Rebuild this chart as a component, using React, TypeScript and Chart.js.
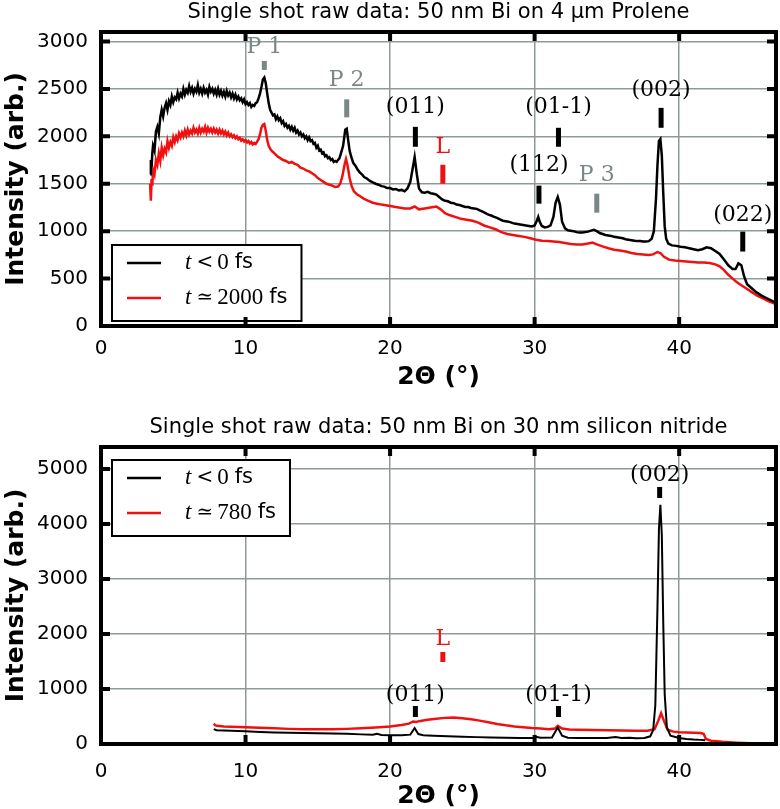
import React, { useEffect, useRef } from "react";
import { Chart, registerables } from "chart.js";
Chart.register(...registerables);

// ---------------- data ----------------
const topTitle = "Single shot raw data: 50 nm Bi on 4 µm Prolene";
const bottomTitle = "Single shot raw data: 50 nm Bi on 30 nm silicon nitride";
const xAxisTitle = "2Θ (°)";
const yAxisTitle = "Intensity (arb.)";
const xTicks = [0, 10, 20, 30, 40];
const topYTicks = [0, 500, 1000, 1500, 2000, 2500, 3000];
const bottomYTicks = [0, 1000, 2000, 3000, 4000, 5000];

const topLegend = [
  { rel: "<", num: "0", unit: "fs" },
  { rel: "≃", num: "2000", unit: "fs" },
];
const bottomLegend = [
  { rel: "<", num: "0", unit: "fs" },
  { rel: "≃", num: "780", unit: "fs" },
];

// top panel, t < 0 fs
const topNegX = [3.4, 3.45, 3.5, 3.55, 3.6, 3.7, 3.8, 3.9, 4.0, 4.1, 4.2, 4.3, 4.4, 4.5, 4.6, 4.7, 4.8, 4.9, 5.0, 5.1, 5.2, 5.3, 5.4, 5.5, 5.6, 5.7, 5.8, 5.9, 6.0, 6.1, 6.2, 6.3, 6.4, 6.5, 6.6, 6.7, 6.8, 6.9, 7.0, 7.1, 7.2, 7.3, 7.4, 7.5, 7.6, 7.7, 7.8, 7.9, 8.0, 8.1, 8.2, 8.3, 8.4, 8.5, 8.6, 8.7, 8.8, 8.9, 9.0, 9.1, 9.2, 9.3, 9.4, 9.5, 9.6, 9.7, 9.8, 9.9, 10.0, 10.1, 10.2, 10.3, 10.4, 10.5, 10.6, 10.7, 10.8, 10.9, 11.0, 11.1, 11.2, 11.3, 11.4, 11.5, 11.6, 11.7, 11.8, 11.9, 12.0, 12.1, 12.2, 12.3, 12.4, 12.5, 12.6, 12.7, 12.8, 12.9, 13.0, 13.1, 13.2, 13.3, 13.4, 13.5, 13.6, 13.7, 13.8, 13.9, 14.0, 14.1, 14.2, 14.3, 14.4, 14.5, 14.6, 14.7, 14.8, 14.9, 15.0, 15.1, 15.2, 15.3, 15.4, 15.5, 15.6, 15.7, 15.8, 15.9, 16.0, 16.1, 16.2, 16.3, 16.4, 16.5, 16.6, 16.75, 16.9, 17.0, 17.1, 17.2, 17.3, 17.45, 17.6, 17.75, 17.9, 18.05, 18.2, 18.4, 18.6, 18.8, 19.0, 19.2, 19.4, 19.6, 19.8, 20.0, 20.2, 20.4, 20.6, 20.8, 21.0, 21.2, 21.4, 21.55, 21.7, 21.85, 22.0, 22.2, 22.4, 22.6, 22.8, 23.0, 23.2, 23.4, 23.6, 23.8, 24.0, 24.2, 24.4, 24.6, 24.8, 25.0, 25.2, 25.4, 25.6, 25.8, 26.0, 26.2, 26.4, 26.6, 26.8, 27.0, 27.2, 27.4, 27.6, 27.8, 28.0, 28.2, 28.4, 28.6, 28.8, 29.0, 29.2, 29.4, 29.6, 29.8, 30.0, 30.15, 30.25, 30.35, 30.5, 30.7, 30.9, 31.1, 31.3, 31.45, 31.6, 31.75, 31.9, 32.1, 32.3, 32.5, 32.7, 32.9, 33.1, 33.3, 33.5, 33.7, 33.9, 34.1, 34.3, 34.5, 34.7, 34.9, 35.1, 35.3, 35.5, 35.7, 35.9, 36.1, 36.3, 36.5, 36.7, 36.9, 37.1, 37.3, 37.5, 37.7, 37.9, 38.1, 38.25, 38.4, 38.5, 38.6, 38.7, 38.8, 38.9, 39.0, 39.1, 39.25, 39.5, 39.8, 40.1, 40.4, 40.7, 41.0, 41.3, 41.6, 41.9, 42.2, 42.5, 42.8, 43.1, 43.4, 43.7, 43.9, 44.1, 44.3, 44.5, 44.7, 45.0, 45.3, 45.7, 46.1, 46.5, 46.7];
const topNegY = [1600, 1750, 1680, 1820, 1900, 1850, 2050, 2100, 2030, 2200, 2280, 2210, 2300, 2350, 2280, 2370, 2330, 2420, 2360, 2410, 2390, 2460, 2400, 2450, 2420, 2500, 2440, 2490, 2460, 2530, 2470, 2510, 2450, 2500, 2470, 2540, 2460, 2500, 2450, 2510, 2460, 2490, 2440, 2520, 2470, 2500, 2450, 2490, 2440, 2500, 2440, 2480, 2430, 2470, 2420, 2480, 2430, 2460, 2410, 2450, 2400, 2440, 2390, 2420, 2380, 2400, 2360, 2390, 2340, 2360, 2330, 2350, 2310, 2330, 2320, 2350, 2360, 2400, 2450, 2520, 2600, 2620, 2560, 2450, 2350, 2280, 2250, 2220, 2230, 2180, 2210, 2170, 2190, 2140, 2160, 2110, 2130, 2090, 2110, 2070, 2100, 2060, 2090, 2040, 2060, 2020, 2040, 2000, 2020, 1980, 2000, 1960, 1990, 1950, 1960, 1920, 1930, 1880, 1900, 1850, 1860, 1820, 1830, 1790, 1800, 1770, 1780, 1750, 1760, 1730, 1740, 1730, 1750, 1770, 1820, 1900, 2070, 2080, 1960, 1850, 1790, 1720, 1690, 1650, 1620, 1600, 1570, 1555, 1530, 1515, 1500, 1490, 1475, 1470, 1455, 1455, 1440, 1445, 1430, 1435, 1420, 1450, 1520, 1650, 1780, 1600, 1450, 1410, 1405, 1415, 1400, 1395, 1385, 1360, 1335, 1320, 1315, 1300, 1295, 1280, 1275, 1265, 1255, 1255, 1245, 1240, 1235, 1220, 1205, 1190, 1175, 1165, 1150, 1140, 1125, 1110, 1105, 1100, 1090, 1080, 1075, 1070, 1065, 1060, 1055, 1050, 1060, 1110, 1150, 1100, 1055, 1040, 1045, 1060, 1150, 1300, 1360, 1280, 1100, 1030, 1010, 1005, 1000, 990, 985, 985, 990, 995, 1005, 1015, 1000, 980, 970, 960, 955, 950, 940, 935, 930, 925, 915, 910, 905, 900, 895, 895, 890, 890, 895, 920, 1000, 1350, 1700, 1950, 1970, 1800, 1400, 1050, 920, 870, 850, 845, 835, 830, 820, 810, 800, 810, 830, 820, 790, 760, 700, 640, 600, 600, 660, 640, 520, 440, 400, 360, 320, 290, 260, 250];

// top panel, t ≃ 2000 fs
const topPosX = [3.4, 3.45, 3.5, 3.55, 3.6, 3.7, 3.8, 3.9, 4.0, 4.1, 4.2, 4.3, 4.4, 4.5, 4.6, 4.7, 4.8, 4.9, 5.0, 5.1, 5.2, 5.3, 5.4, 5.5, 5.6, 5.7, 5.8, 5.9, 6.0, 6.1, 6.2, 6.3, 6.4, 6.5, 6.6, 6.7, 6.8, 6.9, 7.0, 7.1, 7.2, 7.3, 7.4, 7.5, 7.6, 7.7, 7.8, 7.9, 8.0, 8.1, 8.2, 8.3, 8.4, 8.5, 8.6, 8.7, 8.8, 8.9, 9.0, 9.1, 9.2, 9.3, 9.4, 9.5, 9.6, 9.7, 9.8, 9.9, 10.0, 10.1, 10.2, 10.3, 10.4, 10.5, 10.6, 10.7, 10.8, 10.9, 11.0, 11.1, 11.2, 11.3, 11.4, 11.5, 11.6, 11.7, 11.8, 12.0, 12.2, 12.4, 12.6, 12.8, 13.0, 13.2, 13.4, 13.6, 13.8, 14.0, 14.2, 14.4, 14.6, 14.8, 15.0, 15.2, 15.4, 15.6, 15.8, 16.0, 16.2, 16.4, 16.55, 16.7, 16.85, 16.95, 17.05, 17.2, 17.35, 17.5, 17.7, 17.9, 18.2, 18.5, 18.8, 19.1, 19.4, 19.8, 20.2, 20.6, 21.0, 21.4, 21.7, 22.0, 22.4, 22.8, 23.2, 23.5, 23.8, 24.1, 24.5, 24.9, 25.3, 25.7, 26.1, 26.5, 26.9, 27.3, 27.7, 28.1, 28.5, 28.9, 29.3, 29.7, 30.1, 30.5, 30.9, 31.3, 31.7, 32.1, 32.5, 32.9, 33.3, 33.7, 34.0, 34.3, 34.7, 35.1, 35.5, 35.9, 36.3, 36.7, 37.1, 37.5, 37.9, 38.2, 38.5, 38.7, 38.95, 39.3, 39.7, 40.1, 40.5, 40.9, 41.3, 41.7, 42.1, 42.5, 42.8, 43.1, 43.4, 43.7, 44.0, 44.3, 44.6, 45.0, 45.4, 45.8, 46.2, 46.7];
const topPosY = [1500, 1320, 1550, 1480, 1650, 1600, 1750, 1700, 1820, 1740, 1880, 1800, 1870, 1830, 1950, 1880, 1940, 1900, 1990, 1940, 2000, 1960, 2030, 1990, 2040, 2000, 2060, 2010, 2070, 2020, 2060, 2030, 2090, 2040, 2070, 2030, 2090, 2040, 2080, 2050, 2100, 2040, 2090, 2050, 2080, 2040, 2080, 2040, 2070, 2030, 2070, 2030, 2060, 2020, 2050, 2010, 2040, 2000, 2020, 1990, 2010, 1980, 2000, 1970, 1985, 1955, 1970, 1945, 1960, 1935, 1950, 1925, 1940, 1915, 1930, 1920, 1945, 1970, 2020, 2090, 2120, 2130, 2060, 1960, 1900, 1870, 1850, 1820, 1790, 1770, 1750, 1740, 1720, 1730, 1710, 1700, 1670, 1660, 1640, 1630, 1610, 1590, 1560, 1540, 1520, 1500, 1490, 1480, 1465, 1470, 1500, 1580, 1700, 1760, 1700, 1560, 1470, 1420, 1390, 1370, 1340, 1320, 1300, 1290, 1280, 1270, 1260, 1250, 1240, 1240, 1260, 1230, 1240, 1250, 1260, 1230, 1190, 1170, 1150, 1130, 1120, 1110, 1090, 1060, 1040, 1020, 990, 970, 960, 950, 940, 925, 910, 900, 895, 890, 885, 875, 865, 860, 860, 870, 880, 860, 840, 820, 805, 795, 785, 770, 760, 755, 750, 755, 780, 770, 730, 700, 690, 685, 680, 675, 670, 670, 665, 650, 630, 590, 540, 500, 460, 430, 400, 360, 320, 290, 260, 230];

// bottom panel, t < 0 fs
const botNegX = [7.8, 8.0, 8.5, 9.0, 9.5, 10.0, 11, 12, 13, 14, 15, 16, 17, 18, 18.8, 19.1, 19.4, 20, 20.8, 21.4, 21.7, 21.95, 22.3, 23, 24, 25, 26, 27, 28, 29, 29.9, 30.1, 30.4, 31.2, 31.6, 31.9, 32.3, 33, 34, 35, 35.6, 36, 36.6, 37, 37.6, 38.0, 38.2, 38.35, 38.5, 38.6, 38.7, 38.8, 38.9, 39.0, 39.15, 39.4, 40, 40.5, 41, 41.5, 41.8];
const botNegY = [270, 250, 245, 240, 235, 230, 220, 210, 205, 200, 195, 190, 185, 175, 170, 185, 165, 160, 158, 170, 290, 180, 160, 150, 140, 130, 125, 120, 115, 110, 110, 130, 112, 120, 300, 150, 115, 110, 108, 110, 125, 110, 115, 105, 110, 140, 250, 700, 2500, 3900, 4350, 3800, 2200, 900, 300, 150, 110, 90, 80, 75, 70];

// bottom panel, t ≃ 780 fs
const botPosX = [7.8, 7.9, 8.0, 8.5, 9.0, 9.5, 10, 11, 12, 13, 14, 15, 16, 17, 18, 19, 20, 20.8, 21.3, 21.6, 21.8, 22.1, 22.6, 23.2, 23.8, 24.4, 25.0, 25.6, 26.2, 26.8, 27.4, 28, 28.6, 29.2, 29.8, 30.4, 31.0, 31.4, 31.6, 31.9, 32.4, 33, 34, 35, 36, 37, 37.8, 38.3, 38.55, 38.75, 38.95, 39.2, 39.6, 40, 40.5, 41, 41.5, 41.7, 41.85, 42.2, 43, 44, 45];
const botPosY = [370, 340, 330, 320, 315, 310, 305, 295, 285, 275, 270, 268, 270, 275, 285, 300, 320, 345, 370, 410, 400, 420, 440, 460, 475, 480, 470, 450, 425, 395, 365, 340, 320, 305, 290, 280, 270, 280, 330, 280, 265, 260, 255, 250, 245, 240, 240, 270, 420, 560, 420, 260, 225, 215, 210, 205, 200, 180, 90, 60, 40, 25, 15];

// peak annotations (labels, positions in data units)
const topMarkLabels = ["P 1", "P 2", "(011)", "L", "(112)", "(01-1)", "P 3", "(002)", "(022)"];
const topMarkKinds = ["sub", "sub", "bi", "liq", "bi", "bi", "sub", "bi", "bi"];
const topMarkX = [11.3, 17.0, 21.75, 23.65, 30.3, 31.65, 34.3, 38.75, 44.4];
const topMarkLow = [2700, 2200, 1890, 1500, 1290, 1890, 1195, 2090, 785];
const topMarkHigh = [2795, 2390, 2100, 1700, 1480, 2090, 1395, 2300, 995];
const topLabelY = [2937, 2588, 2303, 1880, 1690, 2303, 1584, 2482, 1172];

const botMarkLabels = ["(011)", "L", "(01-1)", "(002)"];
const botMarkKinds = ["bi", "liq", "bi", "bi"];
const botMarkX = [21.75, 23.65, 31.65, 38.65];
const botMarkLow = [491, 1491, 491, 4473];
const botMarkHigh = [691, 1673, 691, 4673];
const botLabelY = [891, 1909, 891, 4891];

// ---------------- styles ----------------
const SANS = "'DejaVu Sans', sans-serif";
const SERIF_TXT = "'DejaVu Serif', serif";
const MATH = "'Liberation Serif', 'DejaVu Serif', serif";
const GRID = "#8f9999";
const RED = "#f01010";
const KIND_COLORS: Record<string, string> = { sub: "#7b8686", bi: "#000000", liq: "#ee1111" };

type PanelCfg = {
  title: string;
  legend: { rel: string; num: string; unit: string }[];
  legendPos: "lower" | "upper";
  labels: string[];
  kinds: string[];
  mx: number[];
  lo: number[];
  hi: number[];
  ly: number[];
};

function drawLegendText(ctx: CanvasRenderingContext2D, x: number, y: number, e: { rel: string; num: string; unit: string }) {
  ctx.textBaseline = "middle";
  ctx.textAlign = "left";
  ctx.fillStyle = "#000";
  let cx = x;
  ctx.font = `italic 23px ${MATH}`;
  ctx.fillText("t", cx, y);
  cx += ctx.measureText("t").width + 5;
  ctx.font = `20px 'DejaVu Serif', serif`;
  ctx.fillText(e.rel, cx, y);
  cx += ctx.measureText(e.rel).width + 4;
  ctx.font = `23px ${MATH}`;
  ctx.fillText(e.num, cx, y);
  cx += ctx.measureText(e.num).width + 6;
  ctx.font = `21px ${SANS}`;
  ctx.fillText(e.unit, cx, y);
  cx += ctx.measureText(e.unit).width;
  return cx - x;
}

function makePlugin(cfg: PanelCfg, yTickVals: number[]) {
  return {
    id: "panelDeco",
    afterDatasetsDraw(chart: any) {
      const ctx: CanvasRenderingContext2D = chart.ctx;
      const xs = chart.scales.x;
      const ys = chart.scales.y;
      ctx.save();
      cfg.labels.forEach((lab, i) => {
        const col = KIND_COLORS[cfg.kinds[i]];
        const px = xs.getPixelForValue(cfg.mx[i]);
        const pTop = ys.getPixelForValue(cfg.hi[i]);
        const pBot = ys.getPixelForValue(cfg.lo[i]);
        ctx.fillStyle = col;
        ctx.fillRect(px - 2.5, pTop, 5, pBot - pTop);
        ctx.font = `22px ${SERIF_TXT}`;
        ctx.textAlign = "center";
        ctx.textBaseline = "middle";
        ctx.fillText(lab, px, ys.getPixelForValue(cfg.ly[i]));
      });
      ctx.restore();
    },
    afterDraw(chart: any) {
      const ctx: CanvasRenderingContext2D = chart.ctx;
      const a = chart.chartArea;
      const xs = chart.scales.x;
      const ys = chart.scales.y;
      ctx.save();
      // title
      ctx.fillStyle = "#000";
      ctx.font = `21px ${SANS}`;
      ctx.textAlign = "center";
      ctx.textBaseline = "middle";
      ctx.fillText(cfg.title, (a.left + a.right) / 2, a.top - 19);

      // legend
      const tmp = document.createElement("canvas").getContext("2d")!;
      let maxW = 0;
      cfg.legend.forEach((e) => {
        maxW = Math.max(maxW, drawLegendText(tmp, 0, 0, e));
      });
      const bx = a.left + 11;
      const bw = 73 + maxW + 14;
      const bh = 76;
      const by = cfg.legendPos === "lower" ? a.bottom - 5 - bh : a.top + 13;
      ctx.fillStyle = "#fff";
      ctx.fillRect(bx, by, bw, bh);
      ctx.strokeStyle = "#000";
      ctx.lineWidth = 2;
      ctx.strokeRect(bx, by, bw, bh);
      cfg.legend.forEach((e, i) => {
        const yy = by + 18 + i * 35;
        ctx.strokeStyle = i === 0 ? "#000" : RED;
        ctx.lineWidth = 2.5;
        ctx.beginPath();
        ctx.moveTo(bx + 15, yy);
        ctx.lineTo(bx + 49, yy);
        ctx.stroke();
        drawLegendText(ctx, bx + 73, yy, e);
      });

      // frame + inward ticks
      ctx.strokeStyle = "#000";
      ctx.lineWidth = 4;
      ctx.strokeRect(a.left, a.top, a.right - a.left, a.bottom - a.top);
      ctx.beginPath();
      xTicks.forEach((v) => {
        const px = xs.getPixelForValue(v);
        ctx.moveTo(px, a.bottom);
        ctx.lineTo(px, a.bottom - 9);
        ctx.moveTo(px, a.top);
        ctx.lineTo(px, a.top + 9);
      });
      yTickVals.forEach((v) => {
        const py = ys.getPixelForValue(v);
        ctx.moveTo(a.left, py);
        ctx.lineTo(a.left + 9, py);
        ctx.moveTo(a.right, py);
        ctx.lineTo(a.right - 9, py);
      });
      ctx.stroke();
      ctx.restore();
    },
  };
}

function buildChart(
  canvas: HTMLCanvasElement,
  series: { xs: number[]; ys: number[]; color: string; width: number }[],
  yMax: number,
  yTickVals: number[],
  padTop: number,
  xHeight: number,
  xTickPad: number,
  xTitlePad: number,
  cfg: PanelCfg
) {
  return new Chart(canvas, {
    type: "line",
    data: {
      datasets: series.map((s) => ({
        data: s.xs.map((x, i) => ({ x, y: s.ys[i] })),
        borderColor: s.color,
        borderWidth: s.width,
        pointRadius: 0,
        tension: 0,
        fill: false,
      })),
    },
    options: {
      responsive: false,
      animation: false,
      events: [],
      layout: { padding: { top: padTop, right: 4, left: 0, bottom: 0 } },
      plugins: { legend: { display: false }, title: { display: false }, tooltip: { enabled: false } },
      scales: {
        x: {
          type: "linear",
          min: 0,
          max: 46.7,
          afterBuildTicks: (s: any) => {
            s.ticks = xTicks.map((v) => ({ value: v }));
          },
          afterFit: (s: any) => {
            s.height = xHeight;
          },
          grid: { color: GRID, lineWidth: 1.5, drawTicks: false },
          border: { display: false },
          ticks: {
            color: "#000",
            font: { family: SANS, size: 20 },
            padding: xTickPad,
            maxRotation: 0,
            callback: (v: any) => String(v),
          },
          title: {
            display: true,
            text: xAxisTitle,
            color: "#000",
            font: { family: SANS, size: 25, weight: "bold", lineHeight: 1 },
            padding: { top: 0, bottom: xTitlePad },
          },
        },
        y: {
          type: "linear",
          min: 0,
          max: yMax,
          afterBuildTicks: (s: any) => {
            s.ticks = yTickVals.map((v) => ({ value: v }));
          },
          afterFit: (s: any) => {
            s.width = 101;
          },
          grid: { color: GRID, lineWidth: 1.5, drawTicks: false },
          border: { display: false },
          ticks: {
            color: "#000",
            font: { family: SANS, size: 20 },
            padding: 13,
            callback: (v: any) => String(v),
          },
          title: {
            display: true,
            text: yAxisTitle,
            color: "#000",
            font: { family: SANS, size: 25, weight: "bold", lineHeight: 1 },
            padding: { top: 4, bottom: 0 },
          },
        },
      },
    },
    plugins: [makePlugin(cfg, yTickVals)],
  } as any);
}

export default function App() {
  const topRef = useRef<HTMLCanvasElement>(null);
  const botRef = useRef<HTMLCanvasElement>(null);

  useEffect(() => {
    const c1 = buildChart(
      topRef.current!,
      [
        { xs: topNegX, ys: topNegY, color: "#000", width: 2.5 },
        { xs: topPosX, ys: topPosY, color: RED, width: 2.5 },
      ],
      3100,
      topYTicks,
      32,
      78,
      11,
      14,
      {
        title: topTitle,
        legend: topLegend,
        legendPos: "lower",
        labels: topMarkLabels,
        kinds: topMarkKinds,
        mx: topMarkX,
        lo: topMarkLow,
        hi: topMarkHigh,
        ly: topLabelY,
      }
    );
    const c2 = buildChart(
      botRef.current!,
      [
        { xs: botNegX, ys: botNegY, color: "#000", width: 2 },
        { xs: botPosX, ys: botPosY, color: RED, width: 2.5 },
      ],
      5400,
      bottomYTicks,
      43,
      65,
      16,
      0,
      {
        title: bottomTitle,
        legend: bottomLegend,
        legendPos: "upper",
        labels: botMarkLabels,
        kinds: botMarkKinds,
        mx: botMarkX,
        lo: botMarkLow,
        hi: botMarkHigh,
        ly: botLabelY,
      }
    );
    return () => {
      c1.destroy();
      c2.destroy();
    };
  }, []);

  return (
    <div style={{ position: "absolute", left: 0, top: 0, width: 780, height: 809, background: "#fff" }}>
      <canvas ref={topRef} width={780} height={404} style={{ display: "block", width: 780, height: 404 }} />
      <canvas ref={botRef} width={780} height={405} style={{ display: "block", width: 780, height: 405 }} />
    </div>
  );
}
